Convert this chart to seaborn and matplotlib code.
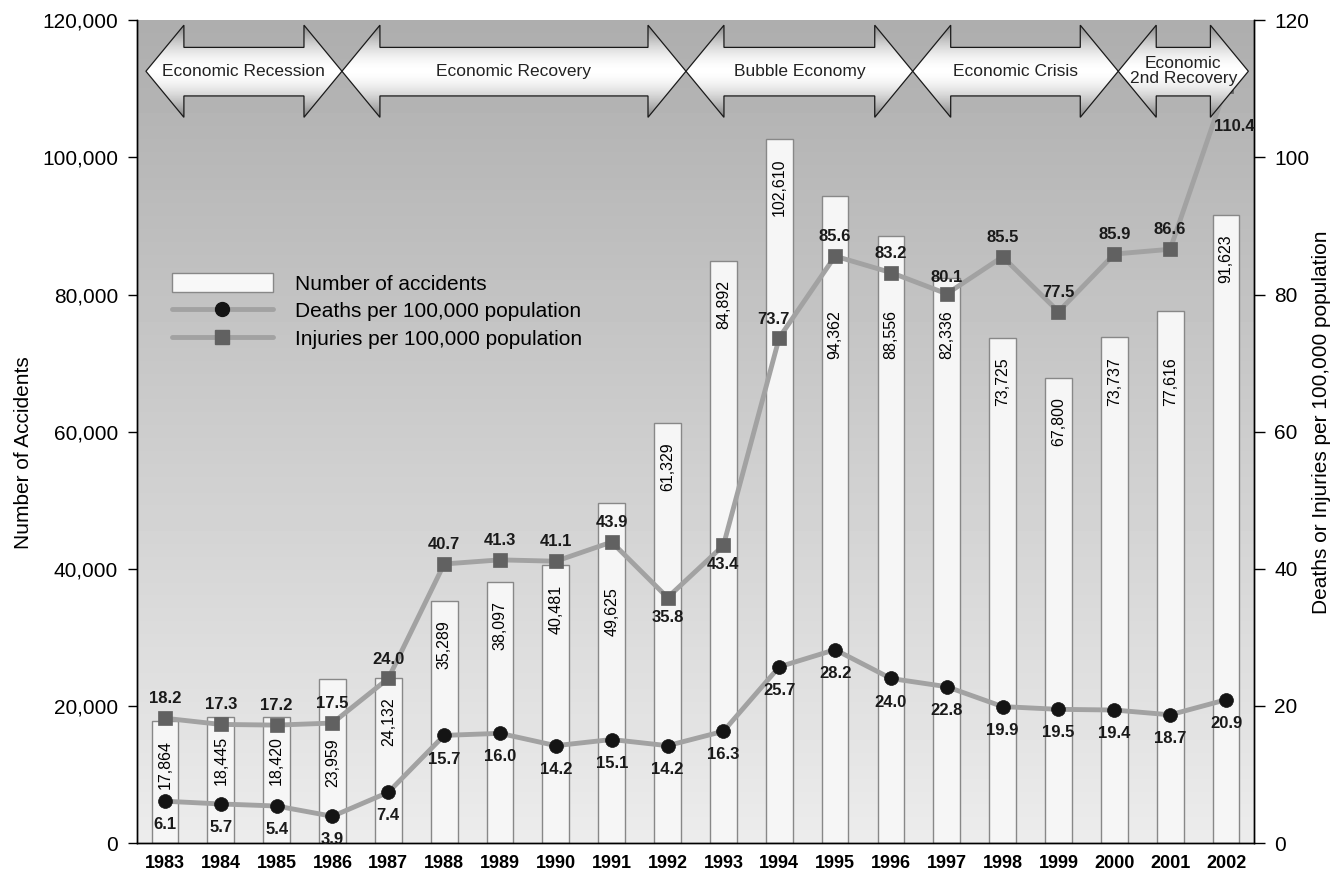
import numpy as np
import pandas as pd
import matplotlib
matplotlib.use("Agg")
import matplotlib.pyplot as plt
import matplotlib.transforms as mtransforms
from matplotlib.patches import Polygon, Patch
from matplotlib.lines import Line2D
import seaborn as sns

years = ["1983", "1984", "1985", "1986", "1987", "1988", "1989", "1990", "1991", "1992",
         "1993", "1994", "1995", "1996", "1997", "1998", "1999", "2000", "2001", "2002"]
accidents = [17864, 18445, 18420, 23959, 24132, 35289, 38097, 40481, 49625, 61329,
             84892, 102610, 94362, 88556, 82336, 73725, 67800, 73737, 77616, 91623]
deaths = [6.1, 5.7, 5.4, 3.9, 7.4, 15.7, 16.0, 14.2, 15.1, 14.2,
          16.3, 25.7, 28.2, 24.0, 22.8, 19.9, 19.5, 19.4, 18.7, 20.9]
injuries = [18.2, 17.3, 17.2, 17.5, 24.0, 40.7, 41.3, 41.1, 43.9, 35.8,
            43.4, 73.7, 85.6, 83.2, 80.1, 85.5, 77.5, 85.9, 86.6, 110.4]

periods = ["Economic Recession", "Economic Recovery", "Bubble Economy",
           "Economic Crisis", "Economic\n2nd Recovery"]
period_edges = [-0.34, 3.17, 9.33, 13.39, 17.07, 19.40]

sns.set_theme(style="ticks")
plt.rcParams["font.family"] = ["Liberation Sans", "DejaVu Sans"]
plt.rcParams.update({"text.color": "black", "axes.labelcolor": "black",
                     "xtick.color": "black", "ytick.color": "black"})

fig = plt.figure(figsize=(13.43, 8.80), dpi=100)
ax = fig.add_axes([0.102, 0.042, 0.8317, 0.935])

# background gradient (dark top -> light bottom)
grad = np.linspace(0.925, 0.68, 256).reshape(-1, 1)
ax.imshow(grad, cmap="gray", vmin=0, vmax=1, aspect="auto", origin="lower",
          extent=[0, 1, 0, 1], transform=ax.transAxes, zorder=0)

df = pd.DataFrame({"year": years, "accidents": accidents})
sns.barplot(data=df, x="year", y="accidents", order=years, ax=ax,
            color="#f6f6f6", saturation=1, edgecolor="#888888",
            linewidth=1, width=0.48, zorder=2)
ax.set_xlim(-0.5, len(years) - 0.5)
ax.set_ylim(0, 120000)
ax.set_yticks(range(0, 120001, 20000))
ax.yaxis.set_major_formatter(matplotlib.ticker.StrMethodFormatter("{x:,.0f}"))
ax.set_xlabel("")
ax.set_ylabel("Number of Accidents", fontsize=15)
ax.yaxis.set_label_coords(-0.093, 0.474)
ax.tick_params(axis="y", labelsize=15, length=6.5, width=1, pad=7, color="black")
ax.tick_params(axis="x", length=0, pad=8.5)
for lab in ax.get_xticklabels():
    lab.set_fontsize(13)
    lab.set_fontweight("bold")

# bar value labels (some pushed down to avoid the lines)
label_top_override = {"1986": 15300, "1991": 37300, "1995": 77700,
                      "1996": 77700, "1997": 77700, "2001": 70900}
for i, (yr, v) in enumerate(zip(years, accidents)):
    if yr in label_top_override:
        ax.annotate(f"{v:,}", (i, label_top_override[yr]), rotation=90,
                    ha="center", va="top", fontsize=11.5, zorder=3)
    else:
        ax.annotate(f"{v:,}", (i, v), xytext=(0, -14), textcoords="offset points",
                    rotation=90, ha="center", va="top", fontsize=11.5, zorder=3)

ax2 = ax.twinx()
ax2.set_ylim(0, 120)
ax2.set_yticks(range(0, 121, 20))
ax2.tick_params(axis="y", labelsize=15, length=8, width=1, pad=6.5, color="black")
ax2.set_ylabel("Deaths or Injuries per 100,000 population", fontsize=15)
ax2.yaxis.set_label_coords(1.052, 0.511)

pos = np.arange(len(years))
line_col = "#a2a2a2"
sns.lineplot(x=pos, y=injuries, ax=ax2, color=line_col, lw=3.5, marker="s",
             markersize=10, markerfacecolor="#616161", markeredgecolor="#616161",
             markeredgewidth=0.5, zorder=4)
sns.lineplot(x=pos, y=deaths, ax=ax2, color=line_col, lw=3.5, marker="o",
             markersize=10, markerfacecolor="#141414", markeredgecolor="#141414",
             markeredgewidth=0.5, zorder=4)
ax2.set_xlim(-0.5, len(years) - 0.5)

lbl = dict(ha="center", va="center", fontsize=12, fontweight="bold",
           color="#1a1a1a", textcoords="offset points", zorder=6)
inj_offsets = {"1992": (0, -14), "1993": (0, -14), "1994": (-4, 13),
               "1997": (0, 11.5), "2002": (6, -29)}
for i, (yr, v) in enumerate(zip(years, injuries)):
    ax2.annotate(f"{v:.1f}", (i, v), xytext=inj_offsets.get(yr, (0, 14)), **lbl)
for i, v in enumerate(deaths):
    ax2.annotate(f"{v:.1f}", (i, v), xytext=(0, -17), **lbl)

for a in (ax, ax2):
    a.spines["top"].set_visible(False)
    for s in ("left", "right", "bottom"):
        a.spines[s].set_color("black")
        a.spines[s].set_linewidth(1)

# period arrows across the top
trans = mtransforms.blended_transform_factory(ax2.transData, ax2.transAxes)
yc, yh_t, yh_b, ys_t, ys_b = 0.938, 0.994, 0.882, 0.967, 0.908
head = 0.68
arrow_grad = 1 - 0.5 * np.abs(np.linspace(-1, 1, 256)) ** 1.8
for name, x0, x1 in zip(periods, period_edges[:-1], period_edges[1:]):
    pts = [(x0, yc), (x0 + head, yh_t), (x0 + head, ys_t), (x1 - head, ys_t),
           (x1 - head, yh_t), (x1, yc), (x1 - head, yh_b), (x1 - head, ys_b),
           (x0 + head, ys_b), (x0 + head, yh_b)]
    poly = Polygon(pts, closed=True, transform=trans, facecolor="none",
                   edgecolor="#1a1a1a", lw=0.9, zorder=11)
    ax2.add_patch(poly)
    im = ax2.imshow(arrow_grad.reshape(-1, 1), cmap="gray", vmin=0, vmax=1,
                    aspect="auto", extent=[x0, x1, yh_b, yh_t], transform=trans,
                    zorder=10)
    im.set_clip_path(poly)
    ax2.text((x0 + x1) / 2, yc, name, transform=trans, ha="center", va="center",
             fontsize=12.5, color="#222222", zorder=12, linespacing=1.0)

ax2.set_xlim(-0.5, len(years) - 0.5)
ax2.set_ylim(0, 120)

handles = [
    Patch(facecolor="#f8f8f8", edgecolor="#888888", lw=1),
    Line2D([], [], color=line_col, lw=3.5, marker="o", markersize=10,
           markerfacecolor="#141414", markeredgecolor="#141414"),
    Line2D([], [], color=line_col, lw=3.5, marker="s", markersize=10,
           markerfacecolor="#616161", markeredgecolor="#616161"),
]
labels = ["Number of accidents", "Deaths per 100,000 population",
          "Injuries per 100,000 population"]
ax2.legend(handles, labels, loc="upper left", bbox_to_anchor=(0.031, 0.6926),
           frameon=False, fontsize=15, borderpad=0, borderaxespad=0,
           handlelength=4.85, handleheight=1.0, handletextpad=1.05,
           labelspacing=0.35)

fig.savefig("out.png", dpi=100)
